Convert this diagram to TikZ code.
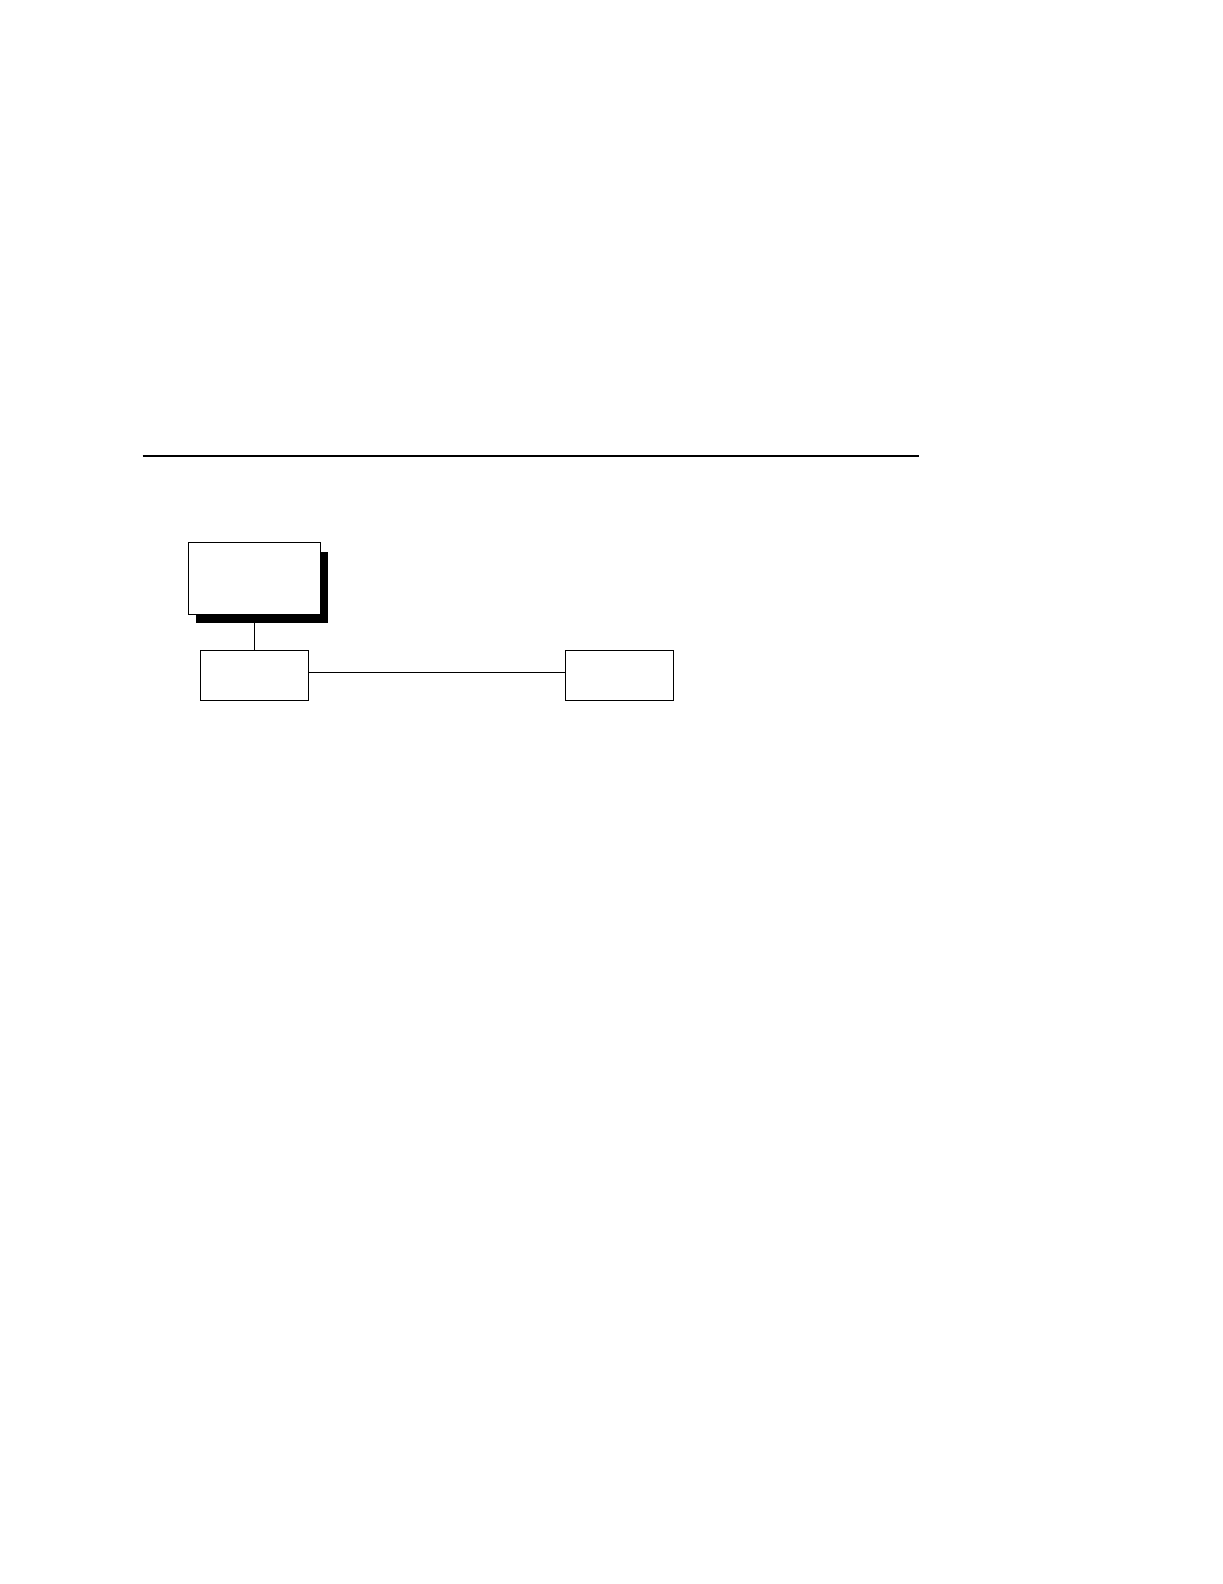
\documentclass[tikz,border=0pt]{standalone}
\usetikzlibrary{positioning,shadows}

\begin{document}
\begin{tikzpicture}[x=0.5pt,y=-0.5pt,node distance=17.5pt,
	box/.style={draw, line width=0.5pt, fill=white, minimum width=54pt, minimum height=25.2pt, inner sep=0pt}]
		\useasboundingbox (0,0) rectangle (1222,1584);
		\coordinate (ruleL) at (142.7,455.7);
		\coordinate (ruleR) at (918.7,455.7);
		\draw[line width=1pt] (ruleL) -- (ruleR);
		
		\node[box, minimum width=66.2pt, minimum height=35.7pt,
			drop shadow={shadow xshift=3.6pt, shadow yshift=-4.6pt, fill=black, opacity=1}] (main) at (254.5,578.4) {};
		\node[box, below=of main]                         (left)  {};
		\node[box, right=127.8pt of left]                 (right) {};
		
		\draw[line width=0.5pt] (main) -- (left);
		\draw[line width=0.5pt] ([yshift=1.2pt]left.east) -- ([yshift=1.2pt]right.west);
	\end{tikzpicture}
\end{document}
